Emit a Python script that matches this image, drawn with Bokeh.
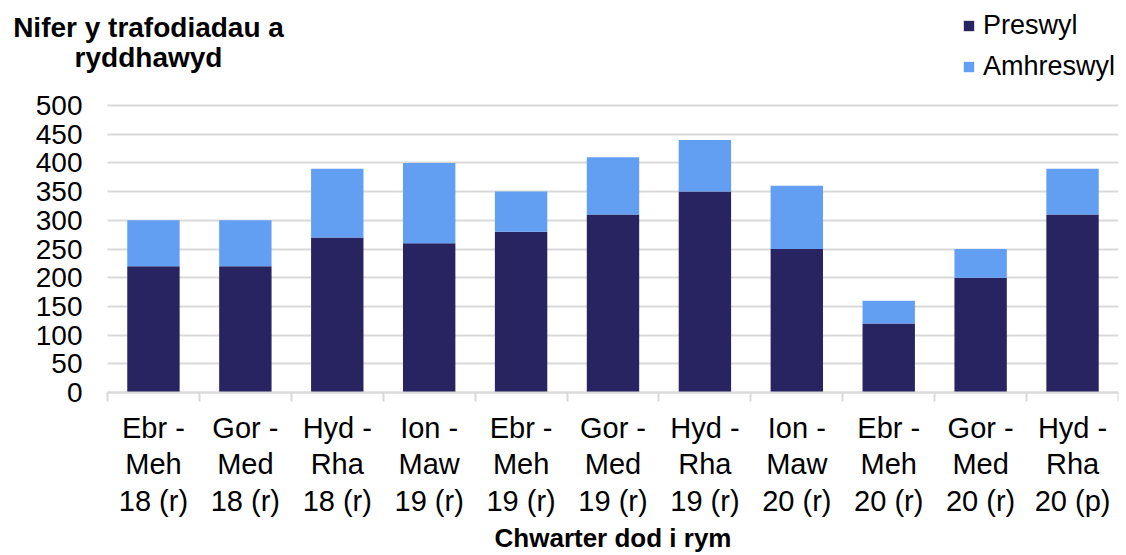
from bokeh.plotting import figure
from bokeh.models import ColumnDataSource, Range1d, FixedTicker, Label, BoxAnnotation
from bokeh.embed import file_html
from bokeh.resources import INLINE

categories = ["Ebr -\nMeh\n18 (r)", "Gor -\nMed\n18 (r)", "Hyd -\nRha\n18 (r)", "Ion -\nMaw\n19 (r)",
              "Ebr -\nMeh\n19 (r)", "Gor -\nMed\n19 (r)", "Hyd -\nRha\n19 (r)", "Ion -\nMaw\n20 (r)",
              "Ebr -\nMeh\n20 (r)", "Gor -\nMed\n20 (r)", "Hyd -\nRha\n20 (p)"]
preswyl = [220, 220, 270, 260, 280, 310, 350, 250, 120, 200, 310]
amhreswyl = [80, 80, 120, 140, 70, 100, 90, 110, 40, 50, 80]
series_names = ["Preswyl", "Amhreswyl"]
y_ticks = [0, 50, 100, 150, 200, 250, 300, 350, 400, 450, 500]
title_lines = ["Nifer y trafodiadau a", "ryddhawyd"]
x_title = "Chwarter dod i rym"

DARK = "#282462"
LIGHT = "#629FF2"
GRID = "#d9d9d9"
FONT = "Liberation Sans"

# canvas geometry (pixels): the frame covers the whole canvas except a small right margin
W, H, RIGHT = 1126, 555, 8
AREA_LEFT, AREA_RIGHT = 107, W - RIGHT   # category area
Y0_PX, Y500_PX = 392, 105                # pixel rows of the 0 and 500 gridlines (from top)

n = len(categories)
centers = [i + 0.5 for i in range(n)]
bounds = [float(i) for i in range(n + 1)]
cat_px = (AREA_RIGHT - AREA_LEFT) / n
x_start = -AREA_LEFT / cat_px
px_per_unit = (Y0_PX - Y500_PX) / max(y_ticks)
y_start = -(H - Y0_PX) / px_per_unit
y_end = Y0_PX / px_per_unit

def sy(px_from_top):
    """screen y (frame-relative, bottom-up) for a pixel row counted from the canvas top"""
    return H - px_from_top

source = ColumnDataSource(dict(x=centers, Preswyl=preswyl, Amhreswyl=amhreswyl))

p = figure(width=W, height=H, output_backend="svg", toolbar_location=None,
           x_range=Range1d(x_start, n), y_range=Range1d(y_start, y_end),
           min_border_left=0, min_border_right=RIGHT, min_border_top=0, min_border_bottom=0)
p.outline_line_color = None
p.background_fill_color = "white"

# gridlines only across the category area
p.xgrid.grid_line_color = None
yg = p.ygrid[0]
yg.ticker = FixedTicker(ticks=y_ticks)
yg.grid_line_color = GRID
yg.grid_line_width = 2
if "cross_bounds" in yg.properties():
    yg.cross_bounds = (0, n)
else:
    p.add_layout(BoxAnnotation(right=0, fill_color="white", fill_alpha=1, line_color=None,
                               level="underlay"))

p.vbar_stack(series_names, x="x", width=0.57, color=[DARK, LIGHT], line_color=None,
             source=source, legend_label=series_names)

# y axis at the left edge of the category area
ya = p.yaxis[0]
ya.fixed_location = 0
ya.ticker = FixedTicker(ticks=y_ticks)
ya.axis_line_color = None
ya.major_tick_line_color = None
ya.minor_tick_line_color = None
ya.major_tick_out = 0
ya.major_tick_in = 0
ya.major_label_standoff = 25
ya.major_label_text_font = FONT
ya.major_label_text_font_size = "28px"
ya.major_label_text_color = "black"

# x axis at value 0: labels at category centres, separator ticks at boundaries
xa = p.xaxis[0]
xa.fixed_location = 0
xa.bounds = (0, n)
xa.ticker = FixedTicker(ticks=centers, minor_ticks=bounds)
xa.major_label_overrides = {c: lab for c, lab in zip(centers, categories)}
xa.axis_line_color = GRID
xa.axis_line_width = 2
xa.major_tick_line_color = None
xa.major_tick_out = 0
xa.major_tick_in = 0
xa.minor_tick_line_color = GRID
xa.minor_tick_line_width = 2
xa.minor_tick_out = 9
xa.minor_tick_in = 0
xa.major_label_standoff = 10
xa.major_label_text_font = FONT
xa.major_label_text_font_size = "29px"
xa.major_label_text_color = "black"
xa.major_label_text_line_height = 1.15

# axis title, centred under the category area
p.add_layout(Label(x=(AREA_LEFT + AREA_RIGHT) / 2, y=sy(537), x_units="screen", y_units="screen",
                   text=x_title, text_align="center", text_baseline="alphabetic",
                   text_font=FONT, text_font_style="bold", text_font_size="26px", text_color="black"))

# chart title (top left)
for line, base_px in zip(title_lines, [27, 57]):
    p.add_layout(Label(x=148, y=sy(base_px), x_units="screen", y_units="screen",
                       text=line, text_align="center", text_baseline="alphabetic",
                       text_font=FONT, text_font_style="bold", text_font_size="28px",
                       text_color="black"))

# legend (top right)
lg = p.legend[0]
lg.location = (962, sy(82))
lg.border_line_color = None
lg.background_fill_alpha = 0
lg.padding = 0
lg.margin = 0
lg.glyph_width = 13
lg.glyph_height = 13
lg.label_standoff = 8
lg.label_height = 30
lg.spacing = 10
lg.label_text_font = FONT
lg.label_text_font_size = "27px"
lg.label_text_color = "black"

open("out.html", "w").write(file_html(p, INLINE))
